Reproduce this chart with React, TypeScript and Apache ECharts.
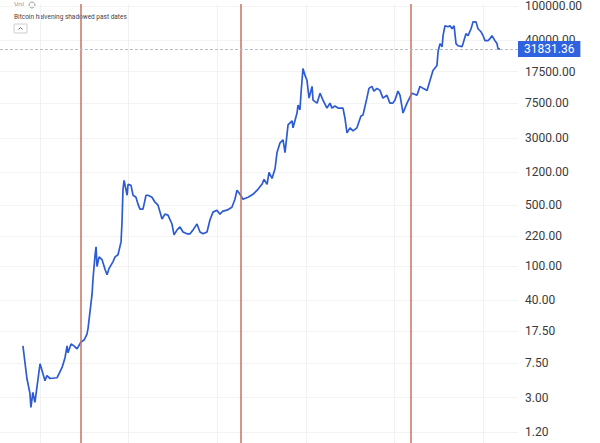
import React, { useEffect, useRef } from "react";
import * as echarts from "echarts";

const dates = [
  "2011-08-13", "2011-09-15", "2011-10-10", "2011-10-18", "2011-11-03", "2011-11-20",
  "2012-01-01", "2012-02-11", "2012-02-27", "2012-03-24", "2012-05-20", "2012-07-01",
  "2012-07-25", "2012-08-11", "2012-08-19", "2012-09-13", "2012-10-07", "2012-11-01",
  "2012-12-04", "2012-12-29", "2013-01-22", "2013-01-31", "2013-03-05", "2013-03-13",
  "2013-03-30", "2013-04-07", "2013-04-15", "2013-05-02", "2013-05-26", "2013-06-20",
  "2013-07-07", "2013-07-23", "2013-08-25", "2013-09-11", "2013-10-05", "2013-10-30",
  "2013-11-07", "2013-11-15", "2013-11-24", "2013-12-19", "2013-12-27", "2014-01-20",
  "2014-02-06", "2014-03-02", "2014-03-19", "2014-04-04", "2014-04-29", "2014-05-24",
  "2014-06-09", "2014-07-12", "2014-08-06", "2014-08-31", "2014-10-03", "2014-10-27",
  "2014-11-21", "2014-12-24", "2015-01-10", "2015-02-04", "2015-02-28", "2015-03-25",
  "2015-04-27", "2015-05-22", "2015-06-16", "2015-07-18", "2015-08-12", "2015-09-06",
  "2015-10-09", "2015-11-02", "2015-11-27", "2015-12-30", "2016-01-23", "2016-02-17",
  "2016-03-21", "2016-05-01", "2016-05-26", "2016-06-12", "2016-07-07", "2016-07-31",
  "2016-09-11", "2016-10-22", "2016-12-02", "2017-01-04", "2017-01-21", "2017-02-15",
  "2017-03-03", "2017-03-28", "2017-04-22", "2017-05-08", "2017-06-02", "2017-06-27",
  "2017-07-13", "2017-08-07", "2017-09-09", "2017-09-17", "2017-10-20", "2017-10-28",
  "2017-11-13", "2017-11-22", "2017-12-08", "2017-12-25", "2018-01-10", "2018-01-27",
  "2018-02-21", "2018-03-01", "2018-04-03", "2018-04-28", "2018-05-22", "2018-06-24",
  "2018-07-19", "2018-08-04", "2018-08-29", "2018-09-23", "2018-11-03", "2018-11-19",
  "2018-12-06", "2018-12-31", "2019-01-24", "2019-02-26", "2019-03-31", "2019-04-17",
  "2019-05-19", "2019-06-05", "2019-06-29", "2019-07-16", "2019-08-10", "2019-09-04",
  "2019-09-28", "2019-10-31", "2019-11-25", "2019-12-19", "2020-01-05", "2020-01-30",
  "2020-02-16", "2020-03-12", "2020-04-14", "2020-05-25", "2020-07-05", "2020-07-30",
  "2020-08-24", "2020-09-26", "2020-10-21", "2020-11-14", "2020-12-17", "2020-12-26",
  "2021-01-11", "2021-01-28", "2021-02-05", "2021-02-21", "2021-03-18", "2021-04-04",
  "2021-04-20", "2021-05-07", "2021-05-23", "2021-06-08", "2021-07-11", "2021-07-20",
  "2021-08-13", "2021-08-30", "2021-09-24", "2021-10-10", "2021-11-04", "2021-11-20",
  "2021-12-15", "2022-01-01", "2022-01-17", "2022-02-11", "2022-02-27", "2022-03-15",
  "2022-04-09", "2022-04-26", "2022-05-04", "2022-05-20",
];

const prices = [
  11.9, 5.0, 3.36, 2.32, 3.45, 2.65,
  7.4, 4.7, 5.4, 5.0, 5.1, 6.7,
  8.7, 11.9, 9.9, 12.5, 11.9, 11.0,
  13.2, 13.9, 16.3, 19.0, 47, 71,
  134, 166, 98, 127, 118, 91,
  79, 93, 112, 127, 134, 189,
  321, 764, 969, 653, 873, 849,
  653, 619, 515, 451, 451, 653,
  653, 619, 543, 501, 347, 395,
  385, 304, 228, 260, 281, 246,
  234, 234, 260, 304, 246, 234,
  246, 338, 417, 439, 395, 428,
  439, 475, 587, 745, 670, 587,
  619, 670, 764, 873, 995, 873,
  1197, 1020, 1330, 2030, 2630, 2850,
  2030, 4240, 4710, 3920, 5810, 7180,
  6290, 9840, 19000, 15800, 13900, 8630,
  11800, 8180, 7560, 9840, 8180, 6630,
  7560, 6630, 6990, 6630, 6630, 5090,
  3430, 3920, 3620, 3920, 5370, 5510,
  8630, 11200, 11800, 10400, 11200, 10600,
  8630, 9330, 7560, 7560, 8180, 10400,
  9330, 5810, 7560, 9840, 9330, 11800,
  11200, 10600, 13900, 18000, 20600, 29800,
  36800, 33900, 45400, 59100, 57500, 59100,
  54600, 59100, 36800, 34800, 33900, 36800,
  47900, 45400, 54600, 65600, 65600, 54600,
  50400, 45400, 39800, 39800, 41900, 45400,
  39800, 36800, 32200, 31831.36,
];

const halvingDates = ["2012-11-28", "2016-07-09", "2020-05-11"];
const yTickValues = [1.2, 3, 7.5, 17.5, 40, 100, 220, 500, 1200, 3000, 7500, 17500, 40000, 100000];
const xGridYears = ["2012-01-01", "2014-01-01", "2016-01-01", "2018-01-01", "2020-01-01", "2022-01-01"];
const lastPrice = 31831.36;
const titleText = "Bitcoin halvening shadowed past dates";

export default function App() {
  const ref = useRef<HTMLDivElement>(null);

  useEffect(() => {
    if (!ref.current) return;
    const chart = echarts.init(ref.current, null, { renderer: "svg" });
    const data = dates.map((d, i) => [d, prices[i]]);
    const xTicks = xGridYears.map((d) => new Date(d).getTime());

    chart.setOption({
      animation: false,
      backgroundColor: "#ffffff",
      grid: { left: 0, right: 82, top: 0, bottom: 0, containLabel: false },
      xAxis: {
        type: "time",
        min: "2011-02-05",
        max: "2022-10-16",
        axisLine: { show: false },
        axisTick: { show: false, customValues: xTicks },
        axisLabel: { show: false, customValues: xTicks },
        splitLine: { show: true, lineStyle: { color: "#f1f1f1", width: 1 } },
      },
      yAxis: {
        type: "log",
        logBase: 10,
        position: "right",
        min: 0.9,
        max: 105400,
        axisLine: { show: false },
        axisTick: { show: false, customValues: yTickValues },
        axisLabel: {
          customValues: yTickValues,
          formatter: (v: number) => v.toFixed(2),
          color: "#3a3a3a",
          fontSize: 12,
          fontFamily: "Roboto",
          margin: 7,
          showMinLabel: true,
          showMaxLabel: true,
        },
        splitLine: { show: true, lineStyle: { color: "#f3f3f3", width: 1 } },
      },
      series: [
        {
          type: "line",
          data,
          showSymbol: false,
          lineStyle: { color: "#2d5bd3", width: 1.7 },
          z: 3,
          markLine: {
            silent: true,
            symbol: ["none", "none"],
            animation: false,
            data: [
              ...halvingDates.map((d) => ({
                xAxis: d,
                lineStyle: { color: "#c9735f", width: 1.5, type: "solid" },
                label: { show: false },
              })),
              {
                yAxis: lastPrice,
                lineStyle: { color: "#b9bdc6", width: 1, type: [3, 2] },
                label: {
                  show: true,
                  position: "end",
                  distance: 0,
                  formatter: lastPrice.toFixed(2),
                  backgroundColor: "#2f62df",
                  color: "#ffffff",
                  fontSize: 12,
                  fontFamily: "Roboto",
                  padding: [2, 6, 2, 6],
                },
              },
            ],
          },
        },
      ],
      graphic: [
        { type: "text", left: 14, top: 1, style: { text: "Vol", fontSize: 7, fill: "#9a9a9a", fontFamily: "Roboto" } },
        { type: "circle", shape: { cx: 32, cy: 5, r: 3 }, style: { fill: "none", stroke: "#9a9a9a", lineWidth: 1 } },
        { type: "text", left: 14, top: 13, style: { text: titleText, fontSize: 6.5, fill: "#444444", fontFamily: "Roboto" } },
        { type: "rect", shape: { x: 14, y: 24, width: 13, height: 9, r: 1 }, style: { fill: "#ffffff", stroke: "#cccccc", lineWidth: 1 } },
        { type: "polyline", shape: { points: [[18.5, 29.5], [20.5, 27.5], [22.5, 29.5]] }, style: { stroke: "#666666", fill: "none", lineWidth: 1 } },
      ],
    });

    return () => chart.dispose();
  }, []);

  return (
    <div
      ref={ref}
      style={{ position: "fixed", left: 0, top: 0, width: 600, height: 443 }}
    />
  );
}
